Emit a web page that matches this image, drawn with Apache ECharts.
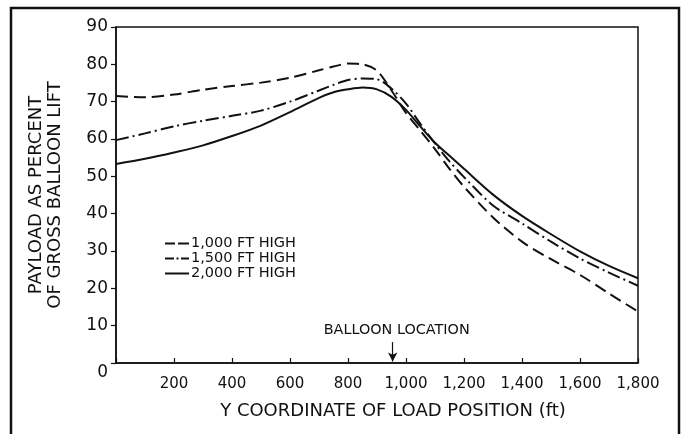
<!DOCTYPE html>
<html>
<head>
<meta charset="utf-8">
<script src="https://cdn.jsdelivr.net/npm/echarts@6/dist/echarts.min.js"></script>
<style>
  html, body { margin: 0; padding: 0; background: #fff; }
  #chart { width: 684px; height: 434px; }
</style>
</head>
<body>
<div id="chart"></div>
<script>
// Load position (ft)
var xPositions = [0, 100, 200, 300, 400, 500, 600, 700, 750, 800, 850, 900, 950, 1000, 1050, 1100, 1150, 1200, 1300, 1400, 1500, 1600, 1700, 1800];
// Payload as percent of gross balloon lift
var high1000 = [71.5, 71.2, 71.9, 73.2, 74.2, 75.1, 76.4, 78.4, 79.4, 80.2, 80.0, 78.3, 73.0, 67.0, 62.2, 57.3, 52.0, 47.2, 39.0, 32.5, 27.8, 23.6, 18.6, 13.8];
var high1500 = [59.7, 61.5, 63.4, 64.9, 66.2, 67.6, 70.0, 73.0, 74.5, 75.8, 76.2, 76.0, 73.5, 69.5, 64.0, 58.8, 54.0, 49.8, 42.2, 37.4, 32.5, 28.0, 24.2, 20.7];
var high2000 = [53.3, 54.7, 56.4, 58.3, 60.8, 63.6, 67.2, 71.0, 72.5, 73.3, 73.8, 73.3, 71.3, 67.8, 63.3, 59.0, 55.5, 52.0, 45.1, 39.4, 34.5, 29.9, 26.0, 22.7];
var seriesNames = ['1,000 FT HIGH', '1,500 FT HIGH', '2,000 FT HIGH'];
var balloonLocation = 954;
var yTicks = { min: 0, max: 90, interval: 10 };
var xTicks = { min: 0, max: 1800, interval: 200 };

function pairs(ys) { return xPositions.map(function (x, i) { return [x, ys[i]]; }); }

var FONT = 'DejaVu Sans';
var INK = '#111';
var legendIcons = [
  'path://M0,0H10V2H0Z M13,0H24V2H13Z',
  'path://M0,0H9V2H0Z M11.5,0H13.5V2H11.5Z M16,0H24V2H16Z',
  'path://M0,0H24V2H0Z'
];
var chart = echarts.init(document.getElementById('chart'), null, { renderer: 'canvas' });
chart.setOption({
  animation: false,
  backgroundColor: '#fff',
  grid: { left: 116, right: 46, top: 27, bottom: 71, show: true, borderColor: INK, borderWidth: 1.5, backgroundColor: 'transparent' },
  graphic: [{
    type: 'rect', shape: { x: 11, y: 8, width: 668, height: 440 },
    style: { fill: 'none', stroke: INK, lineWidth: 2.5 }, silent: true
  }],
  legend: {
    orient: 'vertical', left: 165, top: 236, itemWidth: 24, itemHeight: 2, itemGap: 0, padding: 0,
    textStyle: { fontFamily: FONT, fontSize: 14.5, color: INK, lineHeight: 14, padding: [0, 0, 0, -3] },
    data: seriesNames.map(function (n, i) { return { name: n, icon: legendIcons[i] }; })
  },
  xAxis: {
    type: 'value', min: xTicks.min, max: xTicks.max, interval: xTicks.interval,
    name: 'Y COORDINATE OF LOAD POSITION (ft)', nameLocation: 'middle', nameGap: 39,
    nameTextStyle: { fontFamily: FONT, fontSize: 18, color: INK, padding: [0, 0, 0, 32] },
    axisLine: { lineStyle: { color: INK, width: 1.5 } },
    axisTick: { inside: true, length: 5, lineStyle: { color: INK, width: 1.2 } },
    axisLabel: { margin: 14, fontFamily: FONT, fontSize: 15, color: INK,
      formatter: function (v) { return v === 0 ? '' : v.toLocaleString('en-US'); } },
    splitLine: { show: false }
  },
  yAxis: {
    type: 'value', min: yTicks.min, max: yTicks.max, interval: yTicks.interval,
    name: 'PAYLOAD AS PERCENT\nOF GROSS BALLOON LIFT', nameLocation: 'middle', nameGap: 51,
    nameTextStyle: { fontFamily: FONT, fontSize: 18, color: INK, lineHeight: 19 },
    axisLine: { lineStyle: { color: INK, width: 1.5 } },
    axisTick: { length: 5, lineStyle: { color: INK, width: 1.2 } },
    axisLabel: { margin: 8, fontFamily: FONT, fontSize: 17, color: INK,
      formatter: function (v) { return v === 0 ? '{z|0}' : String(v); },
      rich: { z: { fontFamily: FONT, fontSize: 17, color: INK, padding: [20, 0, 0, 0] } } },
    splitLine: { show: false }
  },
  series: [
    {
      name: seriesNames[0], type: 'line', data: pairs(high1000), smooth: 0.3, symbol: 'none',
      lineStyle: { color: INK, width: 2, type: [12, 6] }, itemStyle: { color: INK },
      markLine: {
        silent: true, symbol: ['none', 'arrow'], symbolSize: [7, 9],
        lineStyle: { color: INK, width: 1.2, type: 'solid' },
        label: { show: true, position: 'start', formatter: 'BALLOON LOCATION', fontFamily: FONT, fontSize: 14.4, color: INK, distance: 5, padding: [0, 0, 0, 8] },
        data: [[{ coord: [balloonLocation, 5.6] }, { coord: [balloonLocation, 0.4] }]]
      }
    },
    {
      name: seriesNames[1], type: 'line', data: pairs(high1500), smooth: 0.3, symbol: 'none',
      lineStyle: { color: INK, width: 2, type: [13, 4, 2, 4] }, itemStyle: { color: INK }
    },
    {
      name: seriesNames[2], type: 'line', data: pairs(high2000), smooth: 0.3, symbol: 'none',
      lineStyle: { color: INK, width: 2, type: 'solid' }, itemStyle: { color: INK }
    }
  ]
});
</script>
</body>
</html>
